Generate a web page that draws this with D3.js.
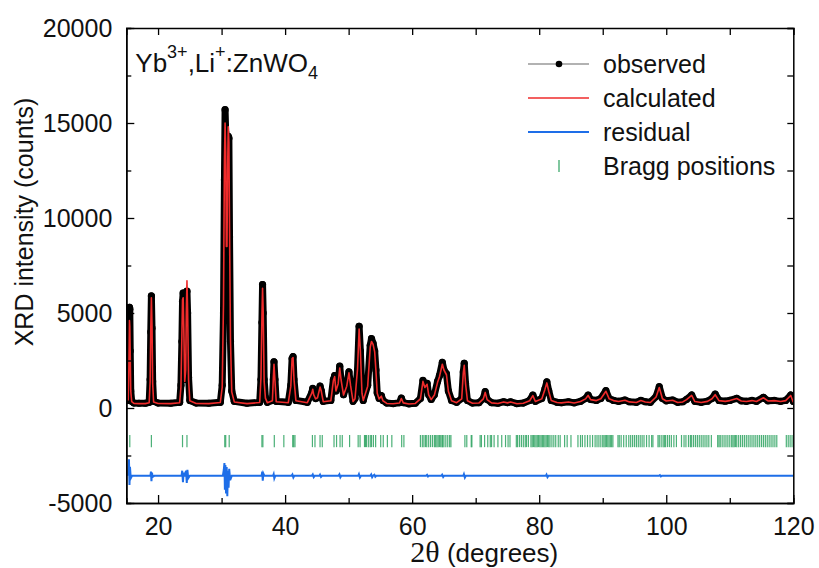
<!DOCTYPE html>
<html>
<head>
<meta charset="utf-8">
<script src="https://cdn.jsdelivr.net/npm/d3@7"></script>
<style>
    body { margin: 0; background: #fff; }
    text { font-family: "Liberation Sans", Arial, sans-serif; fill: #111; }
</style>
</head>
<body>
<div class="xrd__container"></div>
<script>
//data
const twoTheta = [15.3, 15.4, 15.5, 15.55, 15.62, 15.7, 15.85, 16.2, 17, 18, 18.6, 18.75, 18.85, 18.95, 19.05, 19.15, 19.3, 20, 22,
    23.4, 23.6, 23.75, 23.85, 23.95, 24.05, 24.2, 24.35, 24.45, 24.55, 24.65, 24.8, 25, 26, 28,
    29.8, 30.1, 30.3, 30.45, 30.55, 30.65, 30.75, 30.85, 30.95, 31.05, 31.15, 31.25, 31.4, 31.6, 32, 34,
    36, 36.2, 36.35, 36.45, 36.55, 36.7, 36.9, 37.2, 38, 38.15, 38.25, 38.4, 38.6, 40.5, 40.9, 41.1, 41.25, 41.4, 41.7,
    43.5, 44.2, 44.35, 44.5, 44.8, 45.1, 45.5, 45.7, 46, 47.2, 47.6, 47.8, 48, 48.35, 48.6, 48.8, 49.2, 49.7, 50.05, 50.3,
    50.7, 51, 51.4, 51.65, 51.85, 52.1, 52.3, 53, 53.4, 53.6, 53.85, 54.1, 54.3, 54.5, 54.8, 55.15, 55.4, 56, 57,
    58, 58.3, 58.6, 59.5, 60.5, 61.3, 61.7, 62, 62.35, 62.6, 63, 63.5, 64, 64.3, 64.75, 65, 65.4, 65.7, 66.2, 67,
    67.8, 68.05, 68.2, 68.4, 68.7, 69.5, 70.5, 71.2, 71.5, 71.8, 72.5, 73.5, 74.4, 75, 75.5, 76.5, 77.5, 78.5, 79, 79.4,
    80.4, 80.9, 81.2, 81.5, 81.9, 82.8, 83.5, 84.6, 85.5, 86.5, 87.3, 87.7, 88.1, 89, 89.7, 90.5, 91, 91.7, 92.5, 93.5,
    94.2, 95.3, 96, 96.7, 97.5, 98.4, 98.9, 99.4, 100, 101, 101.8, 102.6, 103.2, 104, 104.5, 105.5, 106.5, 107.2, 107.7,
    108.3, 109.3, 110, 111.1, 111.8, 112.6, 113.5, 114.2, 115.3, 116, 117, 118, 118.8, 119.6, 120];

const observed = [400, 2500, 5300, 5200, 3000, 900, 350, 260, 250, 250, 300, 1500, 4000, 5900, 4200, 1400, 350, 260, 250,
    300, 1200, 3500, 5600, 6050, 4000, 1500, 1800, 4500, 6150, 5000, 1600, 400, 260, 250,
    300, 1200, 5000, 12000, 15700, 14500, 9000, 8000, 12000, 14300, 14200, 9000, 3500, 900, 350, 250,
    300, 1500, 4500, 6500, 5000, 1500, 550, 300, 400, 1500, 2430, 1500, 350, 300, 1200, 2600, 2700, 1500, 400,
    300, 800, 1030, 700, 500, 550, 1150, 900, 350, 400, 1500, 1700, 900, 1300, 2200, 1500, 700, 1200, 1900, 1200,
    350, 500, 2000, 4300, 3000, 800, 400, 1200, 3300, 3650, 3400, 3000, 2000, 800, 500, 650, 400, 260, 230,
    280, 520, 280, 220, 250, 500, 1450, 1100, 1300, 700, 450, 700, 1400, 1700, 2400, 2000, 1800, 900, 400, 300,
    500, 1900, 2350, 1300, 400, 260, 280, 500, 860, 450, 280, 250, 330, 280, 330, 230, 260, 400, 680, 350,
    500, 1000, 1380, 900, 400, 300, 280, 330, 270, 350, 500, 680, 450, 400, 500, 910, 500, 400, 350, 420,
    330, 300, 400, 330, 300, 600, 1120, 500, 380, 420, 300, 330, 450, 680, 350, 300, 360, 500, 730,
    400, 360, 400, 510, 380, 350, 400, 350, 560, 380, 400, 350, 400, 680, 350];

const calculated = [400, 2000, 4600, 4300, 2800, 900, 330, 240, 230, 230, 280, 1400, 4100, 5800, 4300, 1300, 320, 240, 230,
    280, 1100, 3800, 5700, 5800, 4200, 1400, 2000, 5000, 6700, 5200, 1500, 380, 240, 230,
    290, 1100, 5500, 13000, 15000, 13500, 8500, 8500, 12500, 14800, 14000, 9500, 3600, 850, 320, 230,
    290, 1600, 4800, 6300, 5100, 1400, 520, 280, 380, 1600, 2300, 1450, 330, 280, 1150, 2600, 2650, 1500, 380,
    280, 780, 980, 700, 480, 540, 1100, 880, 330, 380, 1450, 1650, 900, 1280, 2100, 1500, 680, 1150, 1850, 1200,
    340, 480, 2050, 4150, 3000, 780, 400, 1150, 3200, 3500, 3350, 2950, 1950, 780, 480, 620, 380, 240, 220,
    260, 500, 270, 210, 240, 480, 1400, 1080, 1250, 690, 440, 680, 1350, 1650, 2300, 2000, 1750, 880, 380, 280,
    480, 1850, 2250, 1300, 380, 250, 260, 480, 820, 440, 270, 240, 320, 270, 320, 220, 250, 380, 650, 340,
    480, 980, 1320, 880, 390, 290, 270, 320, 260, 340, 480, 660, 440, 390, 490, 880, 490, 390, 340, 410,
    320, 290, 390, 320, 290, 580, 1080, 490, 370, 410, 290, 320, 440, 660, 340, 290, 350, 490, 700,
    390, 350, 390, 500, 370, 340, 390, 340, 540, 370, 390, 340, 390, 660, 300];

const residTheta = [15.3, 15.42, 15.5, 15.58, 15.7, 15.9, 18.8, 18.88, 18.96, 19.04, 19.15, 19.4,
    23.7, 23.8, 23.92, 24.02, 24.15, 24.4, 24.52, 24.62, 24.75, 25,
    30.2, 30.35, 30.45, 30.52, 30.6, 30.7, 30.8, 30.9, 31, 31.1, 31.2, 31.35, 31.6,
    36.3, 36.4, 36.48, 36.58, 36.75, 38.1, 38.2, 38.3, 38.45, 41, 41.15, 41.3, 41.45,
    44.2, 44.35, 44.5, 44.65, 45.4, 45.5, 45.65, 45.8, 48.4, 48.55, 48.7, 48.85,
    51.5, 51.62, 51.78, 51.95, 53.4, 53.55, 53.7, 53.85, 54.05, 54.2, 54.35,
    62.2, 62.35, 62.5, 62.65, 64.6, 64.72, 64.88, 65, 68.05, 68.15, 68.3, 68.45,
    81.05, 81.15, 81.3, 81.45, 98.85, 99, 99.15, 99.3, 120];

const residual = [-3570, -2700, -4050, -3100, -3700, -3570, -3570, -3350, -3850, -3400, -3620, -3570,
    -3570, -3300, -3900, -3400, -3600, -3300, -3950, -3250, -3700, -3570,
    -3570, -3250, -2900, -4300, -3000, -4500, -3100, -4650, -3300, -4200, -3200, -3800, -3570,
    -3570, -3350, -3820, -3450, -3570, -3570, -3480, -3700, -3570, -3570, -3500, -3660, -3570,
    -3570, -3500, -3640, -3570, -3570, -3510, -3630, -3570, -3570, -3490, -3650, -3570,
    -3570, -3480, -3660, -3570, -3570, -3500, -3640, -3560, -3510, -3620, -3570,
    -3570, -3520, -3610, -3570, -3570, -3510, -3630, -3570, -3570, -3480, -3660, -3570,
    -3570, -3510, -3640, -3570, -3570, -3530, -3600, -3570, -3570];

const braggPositions = [15.55, 18.95, 23.85, 24.55, 30.5, 30.65, 31.2, 36.35, 36.5, 38.3, 39.8, 41.2, 41.35, 41.55,
    44.3, 44.7, 45.5, 45.85, 47.7, 48.1, 48.65, 49, 50.15, 51.5, 51.8, 52.5, 52.65, 52.8, 53.1, 53.4, 53.6, 53.9, 54.25,
    55.05, 55.45, 56.1, 56.8, 58.35, 58.7,
    61.3, 61.6, 61.85, 62.1, 62.3, 62.6, 62.9, 63.2, 63.5, 63.7, 63.9, 64.1, 64.3, 64.5, 64.7, 64.8, 65, 65.3, 65.6, 65.9, 66.1,
    68.3, 68.6, 69.3, 69.4,
    70.7, 70.9, 71.4, 71.9, 72.3, 72.5, 72.9, 73.5, 74.1, 74.7, 75.1, 75.4,
    76.4, 76.6, 76.9, 77.2, 77.5, 77.8, 78, 78.3, 78.7, 78.9, 79.1, 79.3, 79.5, 79.7, 79.9, 80.1, 80.3, 80.5, 80.7, 80.9,
    81.1, 81.3, 81.5, 81.7, 82, 82.3, 82.6, 83, 83.3,
    84, 84.4, 85,
    86.1, 86.5, 86.8, 87.2, 87.6, 88, 88.4, 88.8, 89.1, 89.4, 89.7, 90, 90.2, 90.4, 90.6, 90.8, 91, 91.2, 91.4, 91.6,
    92.4, 92.6, 92.9, 93.3, 93.7, 94.1, 94.4, 94.7, 95, 95.3, 95.6, 95.9, 96.2, 96.5, 96.9, 97.3, 97.7, 97.9,
    98.7, 98.9, 99.2, 99.5, 99.7, 99.9, 100.2, 100.5, 100.8, 101.2, 101.6,
    102.4, 102.8, 103.1, 103.5, 103.8, 104, 104.3, 104.6, 104.9, 105.2, 105.5, 105.8, 106.1, 106.4, 106.7, 107.1,
    108.1, 108.3, 108.5, 108.8, 109.1, 109.4, 109.7, 110, 110.3, 110.5, 110.7, 110.9, 111.1, 111.4, 111.7, 112,
    112.3, 112.6, 112.9, 113.2, 113.5, 113.8, 114.1, 114.4, 114.7, 115, 115.3, 115.6, 115.9, 116.2, 116.5, 116.8,
    117.1, 117.4, 118.9, 119.2, 119.5, 119.8];

const xTicks = [20, 40, 60, 80, 100, 120];
const xMinorTicks = [30, 50, 70, 90, 110];
const yTicks = [-5000, 0, 5000, 10000, 15000, 20000];
const yMinorTicks = [-2500, 2500, 7500, 12500, 17500];
const legendLabels = ['observed', 'calculated', 'residual', 'Bragg positions'];

//d3 chart
const drawChart = () => {
    const width = 819;
    const height = 568;
    const margin = { top: 28, right: 25.7, bottom: 65, left: 126.3 };
    const widthChart = width - margin.left - margin.right;
    const heightChart = height - margin.top - margin.bottom;

    //scales
    const xScale = d3.scaleLinear().domain([15, 120]).range([0, widthChart]);
    const yScale = d3.scaleLinear().domain([-5000, 20000]).range([heightChart, 0]);

    const svg = d3.select('.xrd__container')
        .append('svg')
        .attr('width', width)
        .attr('height', height)
        .append('g')
        .attr('transform', `translate(${margin.left}, ${margin.top})`);

    svg.append('clipPath')
        .attr('id', 'plot-clip')
        .append('rect')
        .attr('width', widthChart)
        .attr('height', heightChart);

    const plot = svg.append('g').attr('clip-path', 'url(#plot-clip)');

    const pattern = twoTheta.map((t, i) => ({ t, obs: observed[i], calc: calculated[i] }));
    const resid = residTheta.map((t, i) => ({ t, v: residual[i] }));

    const obsLine = d3.line().x(d => xScale(d.t)).y(d => yScale(d.obs));
    const calcLine = d3.line().x(d => xScale(d.t)).y(d => yScale(d.calc));
    const residLine = d3.line().x(d => xScale(d.t)).y(d => yScale(d.v));

    // observed: dense dots make a black band
    plot.append('path')
        .datum(pattern)
        .attr('d', obsLine)
        .attr('fill', 'none')
        .attr('stroke', '#000')
        .attr('stroke-width', 7)
        .attr('stroke-linejoin', 'round')
        .attr('stroke-linecap', 'round');

    plot.append('g')
        .selectAll('circle')
        .data(pattern)
        .enter()
        .append('circle')
        .attr('cx', d => xScale(d.t))
        .attr('cy', d => yScale(d.obs))
        .attr('r', 3.6)
        .attr('fill', '#000');

    // calculated
    plot.append('path')
        .datum(pattern)
        .attr('d', calcLine)
        .attr('fill', 'none')
        .attr('stroke', '#ef2b2b')
        .attr('stroke-width', 1.6)
        .attr('stroke-linejoin', 'round');

    // bragg ticks
    plot.append('g')
        .selectAll('line')
        .data(braggPositions)
        .enter()
        .append('line')
        .attr('x1', d => xScale(d))
        .attr('x2', d => xScale(d))
        .attr('y1', yScale(-1420))
        .attr('y2', yScale(-2060))
        .attr('stroke', '#2ca25f')
        .attr('stroke-width', 1.2)
        .attr('stroke-opacity', 0.85);

    // residual
    plot.append('path')
        .datum(resid)
        .attr('d', residLine)
        .attr('fill', 'none')
        .attr('stroke', '#1e6ee8')
        .attr('stroke-width', 2);

    // axes
    const tickFont = g => g.selectAll('text')
        .style('font-size', '25px')
        .style('font-family', '"Liberation Sans", Arial, sans-serif')
        .attr('fill', '#111');

    const styleAxis = g => {
        g.select('.domain').attr('stroke', '#000').attr('stroke-width', 1.5);
        g.selectAll('.tick line').attr('stroke', '#000').attr('stroke-width', 1.3);
    };

    const plainFormat = d => String(d);

    svg.append('g')
        .attr('transform', `translate(0,${heightChart})`)
        .call(d3.axisBottom(xScale).tickValues(xTicks).tickFormat(plainFormat)
            .tickSizeInner(-8).tickSizeOuter(0).tickPadding(14))
        .call(styleAxis)
        .call(tickFont);

    svg.append('g')
        .attr('transform', `translate(0,${heightChart})`)
        .call(d3.axisBottom(xScale).tickValues(xMinorTicks).tickSize(-5).tickFormat(''))
        .call(styleAxis);

    svg.append('g')
        .call(d3.axisTop(xScale).tickValues(xTicks.concat(xMinorTicks)).tickSize(-7).tickFormat(''))
        .call(styleAxis);

    svg.append('g')
        .call(d3.axisLeft(yScale).tickValues(yTicks).tickFormat(plainFormat)
            .tickSizeInner(-8).tickSizeOuter(0).tickPadding(14))
        .call(styleAxis)
        .call(tickFont);

    svg.append('g')
        .call(d3.axisLeft(yScale).tickValues(yMinorTicks).tickSize(-5).tickFormat(''))
        .call(styleAxis);

    svg.append('g')
        .attr('transform', `translate(${widthChart},0)`)
        .call(d3.axisRight(yScale).tickValues(yTicks.concat(yMinorTicks)).tickSize(-6).tickFormat(''))
        .call(styleAxis);

    // axis titles
    const xTitle = svg.append('text')
        .attr('x', 358)
        .attr('y', heightChart + 59)
        .attr('text-anchor', 'middle')
        .style('font-size', '26px');
    xTitle.append('tspan')
        .style('font-family', '"Liberation Serif", "Times New Roman", serif')
        .style('font-size', '30px')
        .text('2θ');
    xTitle.append('tspan').text(' (degrees)');

    svg.append('text')
        .attr('transform', `translate(${-93},${194}) rotate(-90)`)
        .attr('text-anchor', 'middle')
        .style('font-size', '25px')
        .text('XRD intensity (counts)');

    // sample label
    const title = svg.append('text')
        .attr('x', 9)
        .attr('y', 44)
        .style('font-size', '26px');
    title.append('tspan').text('Yb');
    title.append('tspan').attr('dy', -14).style('font-size', '18px').text('3+');
    title.append('tspan').attr('dy', 14).text(',Li');
    title.append('tspan').attr('dy', -14).style('font-size', '18px').text('+');
    title.append('tspan').attr('dy', 14).text(':ZnWO');
    title.append('tspan').attr('dy', 7).style('font-size', '18px').text('4');

    // legend
    const legend = svg.append('g')
        .attr('transform', `translate(${528 - margin.left},${64 - margin.top})`);
    const rows = legend.selectAll('g')
        .data(legendLabels)
        .enter()
        .append('g')
        .attr('transform', (d, i) => `translate(0,${i * 34})`);

    rows.append('text')
        .attr('x', 75)
        .attr('dy', '0.35em')
        .style('font-size', '25px')
        .text(d => d);

    rows.filter((d, i) => i < 3)
        .append('line')
        .attr('x1', 0)
        .attr('x2', 61)
        .attr('stroke', (d, i) => ['#666', '#ef2b2b', '#1e6ee8'][i])
        .attr('stroke-width', (d, i) => [1.2, 1.6, 2.2][i]);

    rows.filter((d, i) => i === 0)
        .append('circle')
        .attr('cx', 31)
        .attr('r', 3.3)
        .attr('fill', '#000');

    rows.filter((d, i) => i === 3)
        .append('line')
        .attr('x1', 31)
        .attr('x2', 31)
        .attr('y1', -6)
        .attr('y2', 6)
        .attr('stroke', '#2ca25f')
        .attr('stroke-width', 1.2);
};

drawChart();
</script>
</body>
</html>
